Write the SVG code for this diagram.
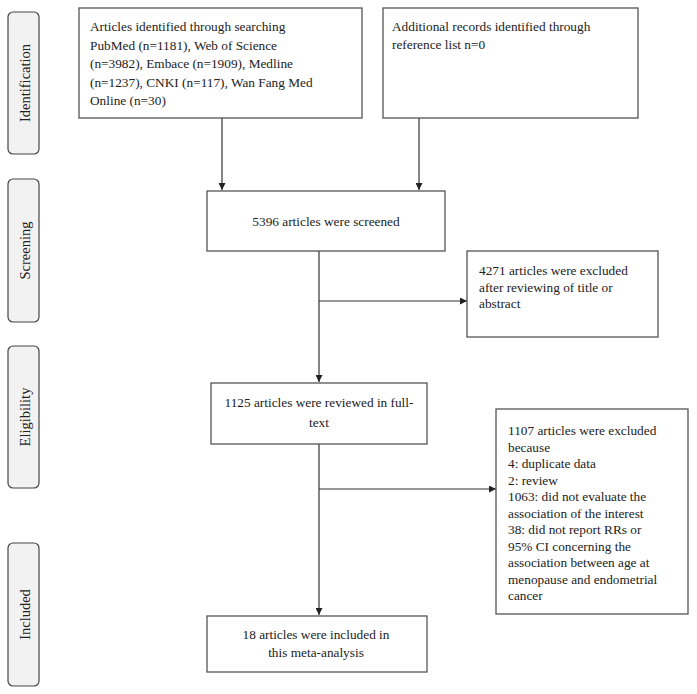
<svg xmlns="http://www.w3.org/2000/svg" width="697" height="694" viewBox="0 0 697 694">
<style>
.box{fill:#fff;stroke:#555;stroke-width:1.3}
.phase{fill:#f2f2f2;stroke:#444;stroke-width:1.2}
.t{font-family:"Liberation Serif","Times New Roman",serif;font-size:13.3px;fill:#222}
.p{font-family:"Liberation Serif","Times New Roman",serif;font-size:14.5px;fill:#222;text-anchor:middle}
.c{text-anchor:middle}
.ln{stroke:#333;stroke-width:1.2;fill:none}
</style>
<defs>
<marker id="ah" viewBox="0 0 10 10" refX="10" refY="5" markerWidth="7" markerHeight="7" markerUnits="userSpaceOnUse" orient="auto">
<path d="M0,0 L10,5 L0,10 z" fill="#222"/>
</marker>
</defs>
<g id="phase-identification"><rect class="phase" x="8" y="12" width="31" height="142" rx="5"/><text class="p" transform="translate(29.5,83) rotate(-90)">Identification</text></g>
<g id="phase-screening"><rect class="phase" x="8" y="179" width="31" height="143" rx="5"/><text class="p" transform="translate(29.5,250.5) rotate(-90)">Screening</text></g>
<g id="phase-eligibility"><rect class="phase" x="8" y="346" width="31" height="142" rx="5"/><text class="p" transform="translate(29.5,417) rotate(-90)">Eligibility</text></g>
<g id="phase-included"><rect class="phase" x="8" y="543" width="31" height="143" rx="5"/><text class="p" transform="translate(29.5,614.5) rotate(-90)">Included</text></g>

<g id="connectors">
<line class="ln" x1="222" y1="118" x2="222" y2="190" marker-end="url(#ah)"/>
<line class="ln" x1="419" y1="118" x2="419" y2="190" marker-end="url(#ah)"/>
<line class="ln" x1="319" y1="251" x2="319" y2="382" marker-end="url(#ah)"/>
<line class="ln" x1="319" y1="301" x2="467" y2="301" marker-end="url(#ah)"/>
<line class="ln" x1="319" y1="444" x2="319" y2="615" marker-end="url(#ah)"/>
<line class="ln" x1="319" y1="489" x2="496" y2="489" marker-end="url(#ah)"/>
</g>

<g id="n-search"><rect class="box" x="79" y="8" width="283" height="110"/>
<text class="t" x="90" y="31">Articles identified through searching</text>
<text class="t" x="90" y="49.5">PubMed (n=1181), Web of Science</text>
<text class="t" x="90" y="68">(n=3982), Embace (n=1909), Medline</text>
<text class="t" x="90" y="86.5">(n=1237), CNKI (n=117), Wan Fang Med</text>
<text class="t" x="90" y="105">Online (n=30)</text></g>

<g id="n-additional"><rect class="box" x="383" y="8" width="255" height="110"/>
<text class="t" x="392" y="31">Additional records identified through</text>
<text class="t" x="392" y="48.5">reference list n=0</text></g>

<g id="n-screened"><rect class="box" x="207" y="191" width="238" height="60"/>
<text class="t c" x="326" y="226">5396 articles were screened</text></g>

<g id="n-excluded1"><rect class="box" x="467" y="251" width="191" height="86"/>
<text class="t" x="479" y="275">4271 articles were excluded</text>
<text class="t" x="479" y="291.5">after reviewing of title or</text>
<text class="t" x="479" y="308">abstract</text></g>

<g id="n-fulltext"><rect class="box" x="211" y="383" width="216" height="61"/>
<text class="t c" x="319" y="407">1125 articles were reviewed in full-</text>
<text class="t c" x="319" y="427">text</text></g>

<g id="n-excluded2"><rect class="box" x="496" y="409" width="192" height="205"/>
<text class="t" x="508" y="435">1107 articles were excluded</text>
<text class="t" x="508" y="451.5">because</text>
<text class="t" x="508" y="468">4: duplicate data</text>
<text class="t" x="508" y="484.5">2: review</text>
<text class="t" x="508" y="501">1063: did not evaluate the</text>
<text class="t" x="508" y="517.5">association of the interest</text>
<text class="t" x="508" y="534">38: did not report RRs or</text>
<text class="t" x="508" y="550.5">95% CI concerning the</text>
<text class="t" x="508" y="567">association between age at</text>
<text class="t" x="508" y="583.5">menopause and endometrial</text>
<text class="t" x="508" y="600">cancer</text></g>

<g id="n-included"><rect class="box" x="207" y="616" width="220" height="56"/>
<text class="t c" x="316" y="639">18 articles were included in</text>
<text class="t c" x="316" y="657">this meta-analysis</text></g>
</svg>
